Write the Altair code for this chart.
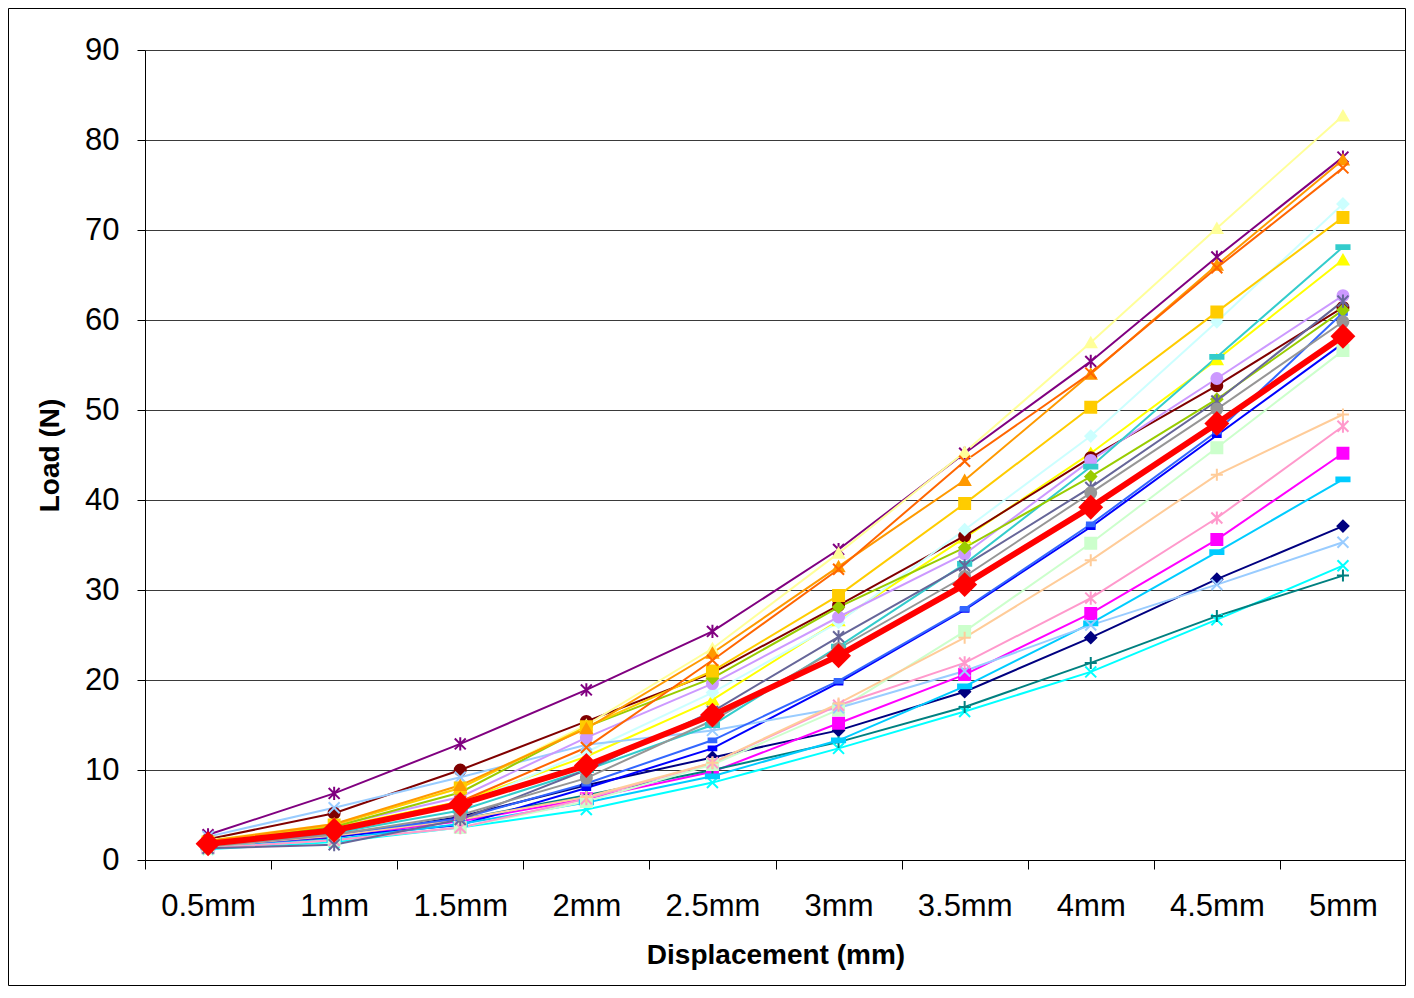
import altair as alt
import pandas as pd

categories = ["0.5mm", "1mm", "1.5mm", "2mm", "2.5mm", "3mm", "3.5mm", "4mm", "4.5mm", "5mm"]

s01 = [1.5, 2.5, 4.8, 8.3, 11.4, 14.4, 18.7, 24.7, 31.2, 37.1]
s02 = [1.4, 2.6, 4.3, 6.8, 9.8, 15.2, 20.6, 27.4, 35.6, 45.2]
s03 = [2.0, 3.6, 6.5, 11.5, 17.8, 26.6, 35.8, 45.2, 55.6, 66.7]
s04 = [1.2, 2.0, 3.6, 5.6, 8.6, 12.4, 16.5, 20.9, 26.7, 32.7]
s05 = [2.8, 7.4, 12.9, 18.9, 25.4, 34.5, 45.2, 55.4, 67.0, 78.1]
s06 = [2.3, 5.2, 10.0, 15.4, 20.8, 28.3, 36.0, 44.7, 52.7, 61.4]
s07 = [1.6, 2.8, 4.5, 7.2, 10.0, 13.1, 17.0, 21.9, 27.1, 31.6]
s08 = [1.5, 2.6, 3.9, 8.0, 12.4, 19.7, 27.8, 37.0, 47.2, 57.4]
s09 = [1.4, 2.3, 4.0, 6.4, 9.3, 13.3, 19.3, 26.3, 34.2, 42.3]
s10 = [1.9, 3.5, 6.0, 12.0, 18.6, 26.4, 36.7, 47.1, 59.8, 72.9]
s11 = [1.3, 2.2, 3.6, 6.5, 10.6, 16.7, 25.4, 35.2, 45.8, 56.6]
s12 = [2.2, 4.0, 8.0, 15.0, 23.5, 34.1, 45.3, 57.5, 70.2, 82.7]
s13 = [2.6, 5.8, 9.2, 12.8, 14.4, 16.9, 21.0, 26.1, 30.6, 35.3]
s14 = [1.3, 2.2, 3.6, 6.8, 10.8, 17.2, 21.9, 29.1, 38.0, 48.2]
s15 = [2.0, 3.8, 7.0, 13.6, 19.6, 27.0, 34.0, 44.4, 53.5, 62.7]
s16 = [1.5, 2.7, 4.5, 7.0, 10.8, 17.4, 24.7, 33.3, 42.8, 49.5]
s17 = [1.6, 2.9, 4.6, 8.5, 13.3, 19.9, 27.9, 37.3, 47.6, 60.8]
s18 = [1.8, 3.0, 5.5, 10.0, 15.0, 23.7, 32.9, 43.7, 55.9, 68.1]
s19 = [2.1, 3.7, 7.5, 14.8, 20.2, 28.1, 34.7, 42.6, 51.2, 61.1]
s20 = [2.0, 3.9, 8.0, 14.8, 21.0, 29.4, 39.6, 50.3, 60.9, 71.4]
s21 = [2.1, 4.0, 8.3, 14.6, 23.0, 32.6, 42.2, 54.0, 66.1, 77.8]
s22 = [1.8, 3.4, 6.5, 12.5, 22.2, 32.3, 44.3, 54.1, 65.8, 76.9]
s23 = [1.3, 1.7, 4.5, 10.0, 16.5, 24.8, 32.7, 41.4, 51.0, 62.1]
s24 = [1.5, 2.8, 5.0, 9.1, 15.5, 23.5, 31.5, 40.8, 50.1, 59.8]
mean_values = [1.8, 3.3, 6.2, 10.5, 16.1, 22.7, 30.6, 39.2, 48.5, 58.2]

series_values = [s01, s02, s03, s04, s05, s06, s07, s08, s09, s10, s11, s12,
                 s13, s14, s15, s16, s17, s18, s19, s20, s21, s22, s23, s24]
series_names = [f"Sample {i + 1}" for i in range(len(series_values))]

series_colors = ["#000080", "#FF00FF", "#FFFF00", "#00FFFF", "#800080", "#800000",
                 "#008080", "#0000FF", "#00CCFF", "#CCFFFF", "#CCFFCC", "#FFFF99",
                 "#99CCFF", "#FF99CC", "#CC99FF", "#FFCC99", "#3366FF", "#33CCCC",
                 "#99CC00", "#FFCC00", "#FF9900", "#FF6600", "#666699", "#969696"]

DIAMOND = "diamond"
SQUARE = "square"
TRIANGLE = "triangle-up"
XMARK = "M-1,-1L1,1M-1,1L1,-1"
STAR = "M-1,-1L1,1M-1,1L1,-1M0,-1.2L0,1.2"
CIRCLE = "circle"
PLUS = "M-1.1,0L1.1,0M0,-1.1L0,1.1"
SHORTDASH = "M-0.7,-0.35L0.7,-0.35L0.7,0.35L-0.7,0.35Z"
LONGDASH = "M-1.2,-0.35L1.2,-0.35L1.2,0.35L-1.2,0.35Z"
marker_cycle = [DIAMOND, SQUARE, TRIANGLE, XMARK, STAR, CIRCLE, PLUS, SHORTDASH, LONGDASH]
series_shapes = [marker_cycle[i % 9] for i in range(len(series_values))]

rows = []
for name, vals in zip(series_names, series_values):
    for c, v in zip(categories, vals):
        rows.append({"disp": c, "load": v, "series": name})
df = pd.DataFrame(rows)
mean_df = pd.DataFrame({"disp": categories, "load": mean_values})

FONT = "Liberation Sans"
W, H = 1261, 810

x_enc = alt.X(
    "disp:N", sort=categories, bandPosition=0.5,
    scale=alt.Scale(type="band", paddingInner=0, paddingOuter=0),
    axis=alt.Axis(title="Displacement (mm)", labelAngle=0, tickBand="extent",
                  tickSize=9, labelPadding=22, labelFontSize=31, labelFont=FONT,
                  labelColor="black", domainColor="black", tickColor="black",
                  titleFont=FONT, titleFontSize=28, titleFontWeight="bold",
                  titleColor="black", titlePadding=20, grid=False),
)
y_enc = alt.Y(
    "load:Q", scale=alt.Scale(domain=[0, 90], nice=False),
    axis=alt.Axis(title="Load (N)", values=list(range(0, 91, 10)), tickSize=8,
                  labelPadding=18, labelFontSize=31, labelFont=FONT, labelColor="black",
                  domainColor="black", tickColor="black", grid=True,
                  gridColor="#3a3a3a", gridWidth=1, titleFont=FONT, titleFontSize=28,
                  titleFontWeight="bold", titleColor="black", titlePadding=20),
)

color_scale = alt.Scale(domain=series_names, range=series_colors)
shape_scale = alt.Scale(domain=series_names, range=series_shapes)

base = alt.Chart(df)
lines = base.mark_line(strokeWidth=2).encode(
    x=x_enc, y=y_enc,
    color=alt.Color("series:N", scale=color_scale, legend=None),
)
points = base.mark_point(filled=True, size=120, strokeWidth=2, opacity=1).encode(
    x=x_enc, y=y_enc,
    fill=alt.Fill("series:N", scale=color_scale, legend=None),
    stroke=alt.Stroke("series:N", scale=color_scale, legend=None),
    shape=alt.Shape("series:N", scale=shape_scale, legend=None),
)
mean_base = alt.Chart(mean_df)
mean_line = mean_base.mark_line(strokeWidth=6, color="#FF0000").encode(x=x_enc, y=y_enc)
mean_pts = mean_base.mark_point(filled=True, size=620, shape="diamond", color="#FF0000",
                                opacity=1).encode(x=x_enc, y=y_enc)

frame = alt.Chart(pd.DataFrame({"k": [0]})).mark_rect(
    filled=False, stroke="black", strokeWidth=1, clip=False
).encode(x=alt.value(-136.5), x2=alt.value(W - 0.5), y=alt.value(-41.5), y2=alt.value(H + 125.5))

chart = alt.layer(lines, points, mean_line, mean_pts, frame).properties(
    width=W, height=H,
    autosize=alt.AutoSizeParams(type="none"),
    padding={"left": 137, "top": 42, "right": 0, "bottom": 126},
).configure_view(
    fill="#C0C0C0", stroke="#404040", strokeWidth=1
).configure(background="white")

chart.save("out.html", embed_options={"renderer": "svg", "actions": False})
